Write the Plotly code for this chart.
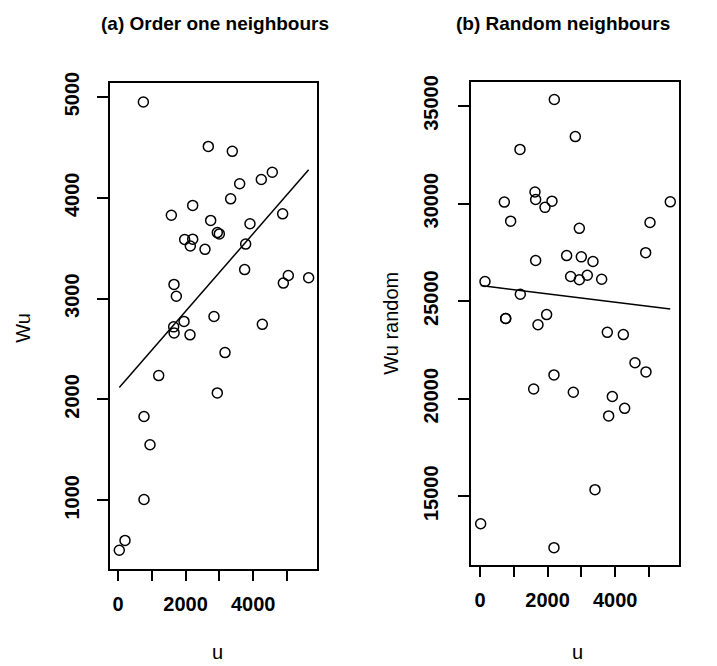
import plotly.graph_objects as go

# ---- data ----
u_a = [750, 2672, 3382, 4565, 4240, 3600, 3333, 2210, 1578, 4872, 2742, 3905, 2938, 2998, 1972,
       2210, 2140, 2574, 3777, 3747, 5039, 4892, 5641, 1657, 1726, 1953, 2840, 4270, 1647, 1660,
       2130, 3166, 1204, 2938, 769, 947, 769, 207, 38]
wu_a = [4950, 4510, 4461, 4254, 4182, 4140, 3990, 3925, 3827, 3841, 3776, 3743, 3655, 3642, 3587,
        3590, 3522, 3489, 3541, 3288, 3229, 3154, 3207, 3141, 3024, 2774, 2823, 2745, 2720, 2660,
        2641, 2465, 2237, 2065, 1831, 1551, 1008, 602, 504]

u_b = [2199, 2820, 1183, 1627, 1647, 720, 2130, 1923, 5630, 907, 5030, 2939, 4902, 1647, 2564,
       2998, 3343, 2682, 2939, 3175, 3600, 148, 1193, 760, 760, 1972, 1716, 3767, 4241, 4586,
       4911, 2189, 1588, 2761, 3915, 4280, 3807, 3402, 20, 2189]
wu_b = [35333, 33433, 32777, 30595, 30207, 30075, 30125, 29805, 30090, 29098, 29032, 28730, 27485,
        27082, 27334, 27268, 27031, 26260, 26093, 26325, 26124, 26008, 25353, 24109, 24109, 24310,
        23790, 23402, 23286, 21840, 21371, 21220, 20499, 20328, 20111, 19506, 19118, 15338, 13593,
        12364]

# regression lines (intercept, slope)
fit_a = [2103, 0.3856]
fit_b = [25800, -0.2142]

x_ticks = [0, 1000, 2000, 3000, 4000, 5000]
x_ticktext = ["0", "", "2000", "", "4000", ""]
y_ticks_a = [1000, 2000, 3000, 4000, 5000]
y_ticktext_a = ["1000", "2000", "3000", "4000", "5000"]
y_ticks_b = [15000, 20000, 25000, 30000, 35000]
y_ticktext_b = ["15000", "20000", "25000", "30000", "35000"]

titles = ["(a) Order one neighbours", "(b) Random neighbours"]
x_label = "u"
y_labels = ["Wu", "Wu random"]

W, H = 717, 666
FONT = "Liberation Sans, Arial, sans-serif"

fig = go.Figure()

def add_panel(u, wu, fit, xa, ya):
    fig.add_trace(go.Scatter(
        x=u, y=wu, mode="markers", xaxis=xa, yaxis=ya, showlegend=False,
        marker=dict(symbol="circle-open", size=10, color="black", line=dict(width=1.5, color="black")),
    ))
    lx = [min(u), max(u)]
    ly = [fit[0] + fit[1] * v for v in lx]
    fig.add_trace(go.Scatter(
        x=lx, y=ly, mode="lines", xaxis=xa, yaxis=ya, showlegend=False,
        line=dict(color="black", width=1.5),
    ))

add_panel(u_a, wu_a, fit_a, "x", "y")
add_panel(u_b, wu_b, fit_b, "x2", "y2")

def px_x(p):
    return p / W

def px_y(p):
    return 1 - p / H

axis_common = dict(
    showline=True, mirror=True, linecolor="black", linewidth=1.5,
    ticks="outside", ticklen=11, tickwidth=1.5, tickcolor="black",
    showgrid=False, zeroline=False,
    tickfont=dict(family=FONT, size=20, color="black", weight="bold"),
)

fig.update_layout(
    width=W, height=H,
    margin=dict(l=0, r=0, t=0, b=0),
    paper_bgcolor="white", plot_bgcolor="white",
    font=dict(family=FONT, color="black"),
    xaxis=dict(domain=[px_x(110), px_x(317)], range=[-237, 5888], anchor="y",
               tickvals=x_ticks, ticktext=x_ticktext, ticklabelstandoff=6, **axis_common),
    yaxis=dict(domain=[px_y(567), px_y(73)], range=[322, 5141], anchor="x",
               tickvals=y_ticks_a, ticktext=y_ticktext_a, tickangle=-90, ticklabelstandoff=10,
               **axis_common),
    xaxis2=dict(domain=[px_x(471), px_x(679)], range=[-266, 5888], anchor="y2",
                tickvals=x_ticks, ticktext=x_ticktext, ticklabelstandoff=6, **axis_common),
    yaxis2=dict(domain=[px_y(563), px_y(72)], range=[11492, 36240], anchor="x2",
                tickvals=y_ticks_b, ticktext=y_ticktext_b, tickangle=-90, ticklabelstandoff=12,
                **axis_common),
)

ann = []
# panel titles
ann.append(dict(text=titles[0], x=px_x(215), y=px_y(13)))
ann.append(dict(text=titles[1], x=px_x(563), y=px_y(13)))
for a in ann:
    a.update(xref="paper", yref="paper", showarrow=False, xanchor="center", yanchor="middle",
             font=dict(family=FONT, size=19, color="black", weight="bold"))
lab_font = dict(family=FONT, size=20, color="black")
# axis labels
ann.append(dict(text=x_label, x=px_x(217), y=px_y(652), xref="paper", yref="paper", showarrow=False,
                xanchor="center", yanchor="middle", font=lab_font))
ann.append(dict(text=x_label, x=px_x(577), y=px_y(652), xref="paper", yref="paper", showarrow=False,
                xanchor="center", yanchor="middle", font=lab_font))
ann.append(dict(text=y_labels[0], x=px_x(23), y=px_y(322), xref="paper", yref="paper", showarrow=False,
                textangle=-90, xanchor="center", yanchor="middle", font=lab_font))
ann.append(dict(text=y_labels[1], x=px_x(391), y=px_y(318), xref="paper", yref="paper", showarrow=False,
                textangle=-90, xanchor="center", yanchor="middle", font=lab_font))
fig.update_layout(annotations=ann)

fig.write_html("out.html", config={"displayModeBar": False},
               post_script="document.body.style.margin='0';")
